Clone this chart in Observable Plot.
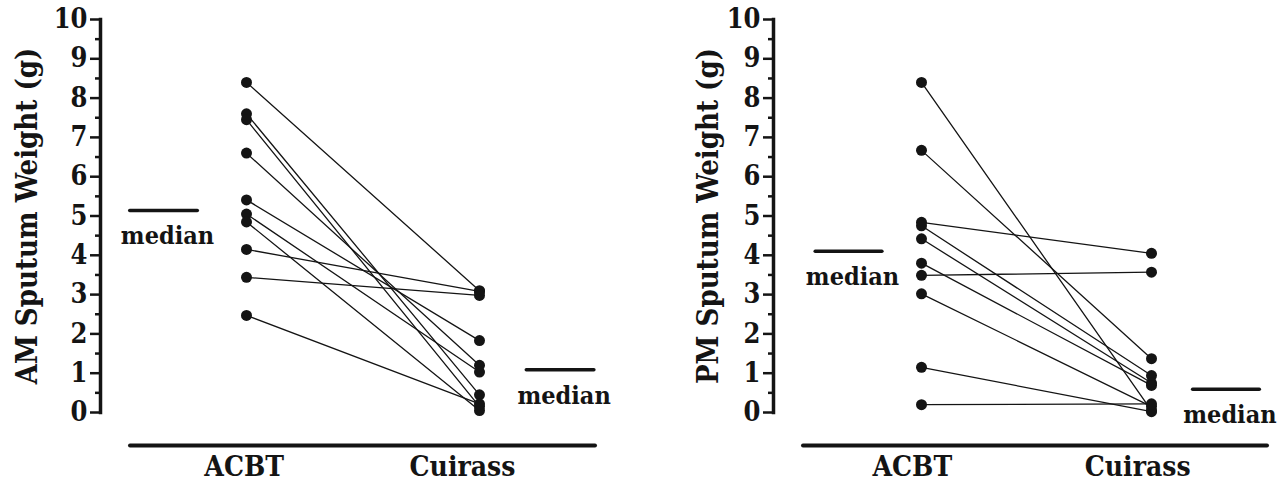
<!DOCTYPE html>
<html>
<head>
<meta charset="utf-8">
<script src="https://cdn.jsdelivr.net/npm/d3@7"></script>
<script src="https://cdn.jsdelivr.net/npm/@observablehq/plot@0.6"></script>
<style>
  html, body { margin: 0; padding: 0; background: #fff; }
  #chart { display: flex; flex-direction: row; width: 1285px; height: 491px; }
  #chart svg, #chart svg text { font-family: "DejaVu Serif Condensed", "DejaVu Serif", serif !important; font-stretch: condensed; font-weight: bold; }
</style>
</head>
<body>
<div id="chart"></div>
<script>
// ---- data ----
const categories = ["ACBT", "Cuirass"];
const amACBT    = [8.4, 7.6, 7.45, 6.6, 5.41, 5.05, 4.85, 4.15, 3.44, 2.47];
const amCuirass = [3.1, 0.45, 0.15, 1.2, 1.83, 1.03, 0.05, 3.08, 2.98, 0.22];
const pmACBT    = [8.4, 6.67, 4.84, 4.75, 4.42, 3.8, 3.49, 3.02, 1.15, 0.2];
const pmCuirass = [0.05, 1.37, 4.05, 0.94, 0.75, 0.69, 3.57, 0.15, 0.02, 0.22];
const amMedians = [5.14, 1.09];
const pmMedians = [4.1, 0.59];
const yTicks = d3.range(0, 11, 1);
const yMinorTicks = d3.range(0.5, 10, 1);
const medianLabel = "median";
const amTitle = "AM Sputum Weight (g)";
const pmTitle = "PM Sputum Weight (g)";

const FONT = "DejaVu Serif";
const INK = "#141414";

function panel(cfg) {
  const rows = [];
  cfg.acbt.forEach((v, i) => {
    rows.push({subject: i, pos: 0, value: v});
    rows.push({subject: i, pos: 1, value: cfg.cuirass[i]});
  });
  const medW = 0.145;
  return Plot.plot({
    width: cfg.width,
    height: 491,
    marginLeft: cfg.marginLeft,
    marginRight: cfg.marginRight,
    marginTop: 19,
    marginBottom: 79,
    style: {color: INK, background: "#fff", overflow: "visible"},
    x: {type: "linear", domain: [0, 1], range: cfg.xRange, axis: null},
    y: {domain: [0, 10], axis: null},
    marks: [
      Plot.frame({anchor: "left", stroke: INK, strokeWidth: 3.5}),
      Plot.axisY(yTicks, {tickSize: 10, tickPadding: 3, strokeWidth: 2.5, fontSize: 27, fontWeight: "bold", fontFamily: FONT, label: null, stroke: INK, fill: INK}),
      Plot.axisY(yMinorTicks, {tickSize: 5, strokeWidth: 2.5, tickFormat: () => "", label: null, stroke: INK}),
      Plot.text([cfg.title], {frameAnchor: "left", textAnchor: "middle", rotate: -90, dx: cfg.titleDx, fontSize: 29, fontWeight: "bold", fontFamily: FONT, fill: INK}),
      Plot.ruleY([cfg.baseline], {insetLeft: 30, stroke: INK, strokeWidth: 4, strokeLinecap: "round"}),
      Plot.line(rows, {x: "pos", y: "value", z: "subject", stroke: INK, strokeWidth: 1.3}),
      Plot.dot(rows, {x: "pos", y: "value", r: 5.5, fill: INK, stroke: "none"}),
      Plot.ruleY(cfg.medians, {y: d => d,
        x1: (d, i) => i + cfg.medOffset[i] - medW,
        x2: (d, i) => i + cfg.medOffset[i] + medW,
        stroke: INK, strokeWidth: 3.5, strokeLinecap: "round"}),
      Plot.text(cfg.medians, {y: d => d, x: (d, i) => i + cfg.medOffset[i] + 0.015,
        text: () => medianLabel, lineAnchor: "bottom", dy: 34,
        fontSize: 25, fontWeight: "bold", fontFamily: FONT, fill: INK}),
      Plot.text(categories, {x: (d, i) => i + cfg.catShift[i], frameAnchor: "bottom",
        text: d => d, lineAnchor: "bottom", dy: 63,
        fontSize: 28, fontWeight: "bold", fontFamily: FONT, fill: INK})
    ]
  });
}

const chart = document.getElementById("chart");
chart.append(panel({
  title: amTitle, acbt: amACBT, cuirass: amCuirass, medians: amMedians,
  width: 642, marginLeft: 100, marginRight: 47, xRange: [246, 479],
  medOffset: [-0.354, 0.348], catShift: [-0.01, -0.073], titleDx: -73, baseline: -0.84
}));
chart.append(panel({
  title: pmTitle, acbt: pmACBT, cuirass: pmCuirass, medians: pmMedians,
  width: 643, marginLeft: 131, marginRight: 18, xRange: [279, 509],
  medOffset: [-0.315, 0.326], catShift: [-0.04, -0.06], titleDx: -65, baseline: -0.84
}));
</script>
</body>
</html>
